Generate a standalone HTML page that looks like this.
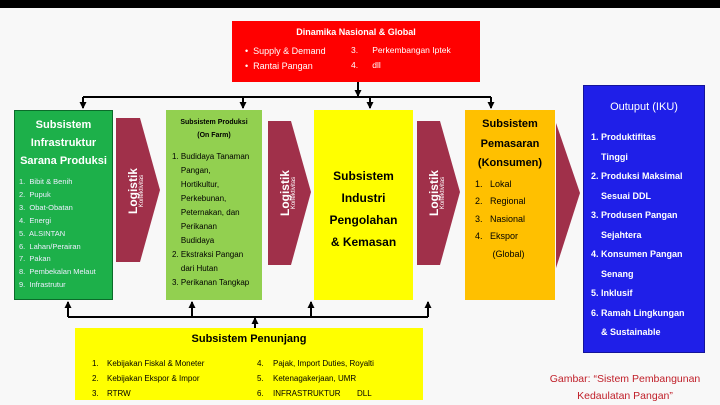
<!DOCTYPE html>
<html><head><meta charset="utf-8"><style>
*{margin:0;padding:0;box-sizing:border-box}
body{width:720px;height:400px;overflow:hidden;background:#f8f8f8;font-family:"Liberation Sans",sans-serif;position:relative}
.b{position:absolute}
.t{position:absolute;white-space:nowrap}
.lg{position:absolute;color:#fff;transform:rotate(-90deg);transform-origin:center;text-align:center;line-height:1}
</style></head><body>
<div class="b" style="left:0;top:0;width:720px;height:8px;background:#000"></div>
<svg class="b" style="left:0;top:0" width="720" height="400">
<defs><marker id="a" markerUnits="userSpaceOnUse" markerWidth="8" markerHeight="8" refX="6" refY="4" orient="auto"><path d="M0,0.5L7,4L0,7.5z" fill="#000"/></marker></defs>
<g stroke="#000" stroke-width="2" fill="none">
<line x1="358" y1="82" x2="358" y2="96" marker-end="url(#a)"/>
<line x1="83" y1="97" x2="491" y2="97"/>
<line x1="83" y1="97" x2="83" y2="108" marker-end="url(#a)"/>
<line x1="243" y1="97" x2="243" y2="108" marker-end="url(#a)"/>
<line x1="370" y1="97" x2="370" y2="108" marker-end="url(#a)"/>
<line x1="491" y1="97" x2="491" y2="108" marker-end="url(#a)"/>
<line x1="68" y1="317" x2="428" y2="317"/>
<line x1="68" y1="317" x2="68" y2="302" marker-end="url(#a)"/>
<line x1="192" y1="317" x2="192" y2="302" marker-end="url(#a)"/>
<line x1="311" y1="317" x2="311" y2="302" marker-end="url(#a)"/>
<line x1="428" y1="317" x2="428" y2="302" marker-end="url(#a)"/>
<line x1="255" y1="328" x2="255" y2="318" marker-end="url(#a)"/>
</g>
<g fill="#a0304a">
<path d="M116,118H140L160,190L140,262H116Z"/>
<path d="M268,121H291L311,192L291,265H268Z"/>
<path d="M417,121H440L460,192L440,265H417Z"/>
<path d="M556,123L580,193L556,268Z"/>
</g>
</svg>
<div class="b" style="left:232px;top:21px;width:248px;height:61px;background:#f00"></div>
<div class="t" style="left:232px;top:27px;width:248px;text-align:center;color:#fff;font-size:9px;font-weight:bold">Dinamika Nasional &amp; Global</div>
<div class="t" style="left:245px;top:44px;color:#fff;font-size:9px;line-height:15px">•&nbsp; Supply &amp; Demand<br>•&nbsp; Rantai Pangan</div>
<div class="t" style="left:351px;top:43px;color:#fff;font-size:8.5px;line-height:15px">3.&nbsp;&nbsp;&nbsp;&nbsp;&nbsp; Perkembangan Iptek<br>4.&nbsp;&nbsp;&nbsp;&nbsp;&nbsp; dll</div>

<div class="b" style="left:14px;top:110px;width:99px;height:190px;background:#1db04a;border:1px solid #0b6b2a"></div>
<div class="t" style="left:14px;top:116px;width:99px;text-align:center;color:#fff;font-size:11px;font-weight:bold;line-height:18px">Subsistem<br>Infrastruktur<br>Sarana Produksi</div>
<div class="t" style="left:19px;top:176px;color:#eef;font-size:7.5px;line-height:12.9px">1.&nbsp; Bibit &amp; Benih<br>2.&nbsp; Pupuk<br>3.&nbsp; Obat-Obatan<br>4.&nbsp; Energi<br>5.&nbsp; ALSINTAN<br>6.&nbsp; Lahan/Perairan<br>7.&nbsp; Pakan<br>8.&nbsp; Pembekalan Melaut<br>9.&nbsp; Infrastrutur</div>

<div class="b" style="left:166px;top:110px;width:96px;height:190px;background:#92d050"></div>
<div class="t" style="left:166px;top:116px;width:96px;text-align:center;font-size:7px;font-weight:bold;line-height:13px">Subsistem Produksi<br>(On Farm)</div>
<div class="t" style="left:172px;top:150px;font-size:8px;line-height:14px">1. Budidaya Tanaman<br>&nbsp;&nbsp;&nbsp; Pangan,<br>&nbsp;&nbsp;&nbsp; Hortikultur,<br>&nbsp;&nbsp;&nbsp; Perkebunan,<br>&nbsp;&nbsp;&nbsp; Peternakan, dan<br>&nbsp;&nbsp;&nbsp; Perikanan<br>&nbsp;&nbsp;&nbsp; Budidaya<br>2. Ekstraksi Pangan<br>&nbsp;&nbsp;&nbsp; dari Hutan<br>3. Perikanan Tangkap</div>

<div class="b" style="left:314px;top:110px;width:99px;height:190px;background:#ffff00"></div>
<div class="t" style="left:314px;top:165px;width:99px;text-align:center;font-size:12px;font-weight:bold;line-height:22px">Subsistem<br>Industri<br>Pengolahan<br>&amp; Kemasan</div>

<div class="b" style="left:465px;top:110px;width:90px;height:190px;background:#ffc000"></div>
<div class="t" style="left:465px;top:115px;width:90px;text-align:center;font-size:11px;font-weight:bold;line-height:19.5px">Subsistem<br>Pemasaran<br>(Konsumen)</div>
<div class="t" style="left:475px;top:176px;font-size:9px;line-height:17.4px">1.&nbsp;&nbsp; Lokal<br>2.&nbsp;&nbsp; Regional<br>3.&nbsp;&nbsp; Nasional<br>4.&nbsp;&nbsp; Ekspor<br>&nbsp;&nbsp;&nbsp;&nbsp;&nbsp;&nbsp; (Global)</div>

<div class="b" style="left:583px;top:85px;width:122px;height:268px;background:#1f1fe8;border:1px solid #14149a"></div>
<div class="t" style="left:583px;top:101px;width:122px;text-align:center;color:#fff;font-size:11px">Outuput (IKU)</div>
<div class="t" style="left:591px;top:128px;color:#fff;font-size:9px;font-weight:bold;line-height:19.5px">1. Produktifitas<br>&nbsp;&nbsp;&nbsp; Tinggi<br>2. Produksi Maksimal<br>&nbsp;&nbsp;&nbsp; Sesuai DDL<br>3. Produsen Pangan<br>&nbsp;&nbsp;&nbsp; Sejahtera<br>4. Konsumen Pangan<br>&nbsp;&nbsp;&nbsp; Senang<br>5. Inklusif<br>6. Ramah Lingkungan<br>&nbsp;&nbsp;&nbsp; &amp; Sustainable</div>

<div class="lg" style="left:105px;top:180px;width:66px;height:22px"><div style="font-size:12px;font-weight:bold">Logistik</div><div style="font-size:6px">Konektivitas</div></div>
<div class="lg" style="left:257px;top:182px;width:66px;height:22px"><div style="font-size:12px;font-weight:bold">Logistik</div><div style="font-size:6px">Konektivitas</div></div>
<div class="lg" style="left:406px;top:182px;width:66px;height:22px"><div style="font-size:12px;font-weight:bold">Logistik</div><div style="font-size:6px">Konektivitas</div></div>

<div class="b" style="left:75px;top:328px;width:348px;height:72px;background:#ffff00"></div>
<div class="t" style="left:75px;top:333px;width:348px;text-align:center;font-size:11px;font-weight:bold">Subsistem Penunjang</div>
<div class="t" style="left:92px;top:356px;font-size:8px;line-height:15px">1.<br>2.<br>3.</div>
<div class="t" style="left:107px;top:356px;font-size:8px;line-height:15px">Kebijakan Fiskal &amp; Moneter<br>Kebijakan Ekspor &amp; Impor<br>RTRW</div>
<div class="t" style="left:257px;top:356px;font-size:8px;line-height:15px">4.<br>5.<br>6.</div>
<div class="t" style="left:273px;top:356px;font-size:8px;line-height:15px">Pajak, Import Duties, Royalti<br>Ketenagakerjaan, UMR<br>INFRASTRUKTUR</div>
<div class="t" style="left:357px;top:386px;font-size:8px;line-height:15px">DLL</div>

<div class="t" style="left:530px;top:371px;width:190px;text-align:center;color:#c0202a;font-size:10.5px;line-height:17px">Gambar: “Sistem Pembangunan<br>Kedaulatan Pangan”</div>
</body></html>
